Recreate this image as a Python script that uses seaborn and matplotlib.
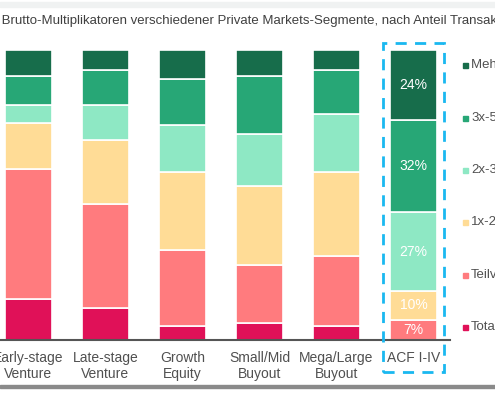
import matplotlib
matplotlib.use("Agg")
import matplotlib.pyplot as plt
import numpy as np
import seaborn as sns
from matplotlib.patches import Rectangle

categories = ["Early-stage\nVenture", "Late-stage\nVenture", "Growth\nEquity",
              "Small/Mid\nBuyout", "Mega/Large\nBuyout", "ACF I-IV"]
# stacked from bottom to top
segments = ["Totalverlust", "Teilverlust", "1x-2x", "2x-3x", "3x-5x", "Mehr als 5x"]
totalverlust = [14, 11, 5, 6, 5, 0]
teilverlust = [45, 36, 26, 20, 24, 7]
x1_2 = [16, 22, 27, 27, 29, 10]
x2_3 = [6, 12, 16, 18, 20, 27]
x3_5 = [10, 12, 16, 20, 15, 32]
mehr_5 = [9, 7, 10, 9, 7, 24]
values = [totalverlust, teilverlust, x1_2, x2_3, x3_5, mehr_5]
colors = ["#e01158", "#ff7b7e", "#ffdc96", "#8ee8c4", "#27a776", "#176d4b"]

sns.set_style("white")
plt.rcParams["font.family"] = ["Liberation Sans", "DejaVu Sans"]

fig = plt.figure(figsize=(4.95, 4.0), dpi=100)
ax = fig.add_axes([0.0, 0.15, 450 / 495, 0.725])

xpos = np.arange(len(categories))
bottom = np.zeros(len(categories))
last = len(categories) - 1
for seg, vals, col in zip(segments, values, colors):
    vals = np.array(vals, dtype=float)
    ax.bar(xpos, vals, bottom=bottom, width=0.61, color=col,
           edgecolor="white", linewidth=1.2, label=seg)
    if vals[last] > 0:
        ax.text(xpos[last], bottom[last] + vals[last] / 2, f"{int(vals[last])}%",
                ha="center", va="center", color="white", fontsize=10)
    bottom += vals

ax.set_xlim(-0.37, -0.37 + 450 / 77)
ax.set_ylim(0, 100)
ax.set_yticks([])
ax.set_xticks(xpos)
ax.set_xticklabels(categories, fontsize=10, color="#505050")
ax.tick_params(axis="x", length=0, pad=8)
sns.despine(ax=ax, left=True, top=True, right=True)
ax.spines["bottom"].set_color("#555555")
ax.spines["bottom"].set_linewidth(1.5)

# legend, cut at the right edge as in the reference
for seg, col, yy in zip(reversed(segments), reversed(colors),
                        [65, 118, 170, 222, 275, 327]):
    fy = 1 - yy / 400
    fig.patches.append(Rectangle((463 / 495, fy - 0.008), 0.011, 0.014,
                                 transform=fig.transFigure, color=col))
    fig.text(471 / 495, fy, seg, fontsize=9.5, color="#505050", va="center")

fig.text(-0.045, 1 - 21 / 400,
         "Die Brutto-Multiplikatoren verschiedener Private Markets-Segmente, nach Anteil Transaktionen",
         fontsize=9.5, color="#404040", va="center")

# dashed highlight box
fig.patches.append(Rectangle((383 / 495, 1 - 372 / 400), 61 / 495, 329 / 400,
                             transform=fig.transFigure, fill=False,
                             edgecolor="#1ab8f0", linewidth=2, linestyle=(0, (4, 3))))
# frame details
fig.patches.append(Rectangle((0, 1 - 7 / 400), 1, 5 / 400,
                             transform=fig.transFigure, color="#f0f2f2"))
fig.patches.append(Rectangle((0, 1 - 388 / 400), 1, 3 / 400,
                             transform=fig.transFigure, color="#8a8a8a"))

fig.savefig("out.png", dpi=100)
